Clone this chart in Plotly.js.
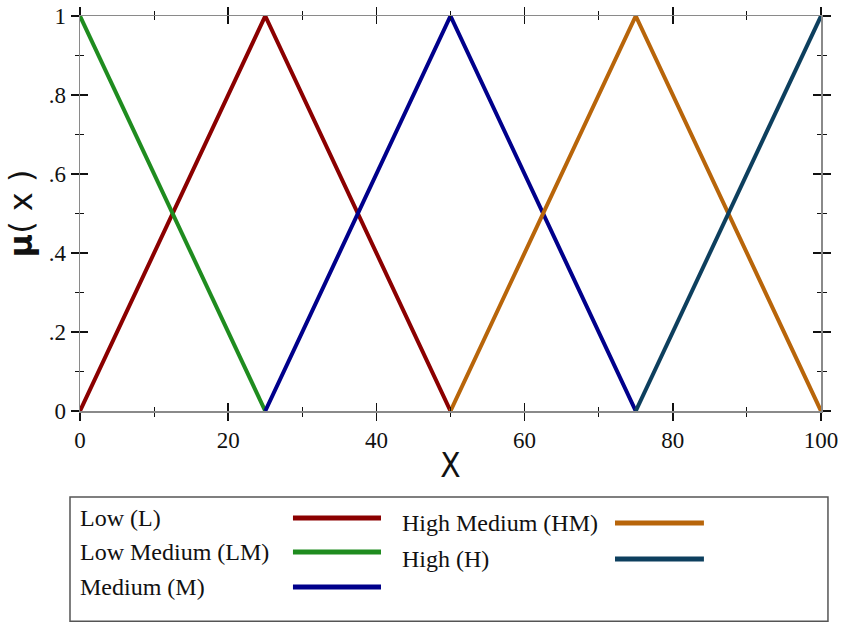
<!DOCTYPE html>
<html>
<head>
<meta charset="utf-8">
<script src="https://cdn.plot.ly/plotly-3.0.1.min.js"></script>
<style>html,body{margin:0;padding:0;background:#fff;}#chart{width:842px;height:624px;}</style>
</head>
<body>
<div id="chart"></div>
<script>
// ---- data ----
const seriesNames = ["Low (L)", "Low Medium (LM)", "Medium (M)", "High Medium (HM)", "High (H)"];
const seriesColors = ["#8b0000", "#1f8c1f", "#00008b", "#b8650a", "#0d3f5e"];
const lowX = [0, 25, 50];          const lowY = [0, 1, 0];
const lowMedX = [0, 25];           const lowMedY = [1, 0];
const medX = [25, 50, 75];         const medY = [0, 1, 0];
const highMedX = [50, 75, 100];    const highMedY = [0, 1, 0];
const highX = [75, 100];           const highY = [0, 1];
const xTickVals = [0, 20, 40, 60, 80, 100];
const xTickText = ["0", "20", "40", "60", "80", "100"];
const yTickVals = [0, 0.2, 0.4, 0.6, 0.8, 1];
const yTickText = ["0", ".2", ".4", ".6", ".8", "1"];

const xsAll = [lowX, lowMedX, medX, highMedX, highX];
const ysAll = [lowY, lowMedY, medY, highMedY, highY];

const traces = xsAll.map((xs, i) => ({
  x: xs, y: ysAll[i], type: "scatter", mode: "lines", name: seriesNames[i],
  line: {color: seriesColors[i], width: 4}, cliponaxis: false, showlegend: false, hoverinfo: "none"
}));
// dummy trace to activate inner-tick axes
traces.push({x: [0], y: [0], xaxis: "x2", yaxis: "y2", mode: "markers", marker: {opacity: 0}, showlegend: false, hoverinfo: "none"});

const serif = "Liberation Serif, Times New Roman, serif";
const axCommon = {
  showgrid: false, zeroline: false, showline: true, linecolor: "#8a8a8a", linewidth: 1.5,
  ticks: "outside", ticklen: 8, tickwidth: 1.5, tickcolor: "#111", mirror: "allticks",
  tickfont: {family: serif, size: 23, color: "#111"},
  minor: {ticks: "outside", ticklen: 4, tickwidth: 1, tickcolor: "#111"}
};

// legend (custom: text then line sample)
const col1Text = -0.0027, col1L0 = 0.2874, col1L1 = 0.4062;
const col2Text = 0.4318, col2L0 = 0.722, col2L1 = 0.842;
const legendPos = [
  {tx: col1Text, l0: col1L0, l1: col1L1, y: -0.2709},
  {tx: col1Text, l0: col1L0, l1: col1L1, y: -0.357},
  {tx: col1Text, l0: col1L0, l1: col1L1, y: -0.4456},
  {tx: col2Text, l0: col2L0, l1: col2L1, y: -0.2835},
  {tx: col2Text, l0: col2L0, l1: col2L1, y: -0.3747}
];
const shapes = [{type: "rect", xref: "paper", yref: "paper", x0: -0.0135, x1: 1.0094, y0: -0.532, y1: -0.2177,
  line: {color: "#555", width: 1.5}, fillcolor: "rgba(0,0,0,0)"}];
const annotations = [];
legendPos.forEach((p, i) => {
  shapes.push({type: "line", xref: "paper", yref: "paper", x0: p.l0, x1: p.l1, y0: p.y, y1: p.y,
    line: {color: seriesColors[i], width: 5}});
  annotations.push({xref: "paper", yref: "paper", x: p.tx, y: p.y, xanchor: "left", yanchor: "middle",
    text: seriesNames[i], showarrow: false, font: {family: serif, size: 24, color: "#111"}});
});

const layout = {
  width: 842, height: 624,
  margin: {l: 80, r: 21, t: 16, b: 213},
  paper_bgcolor: "#fff", plot_bgcolor: "#fff",
  showlegend: false,
  xaxis: Object.assign({}, axCommon, {
    range: [0, 100], tickmode: "array", tickvals: xTickVals, ticktext: xTickText,
    minor: Object.assign({}, axCommon.minor, {dtick: 10, tick0: 0}),
    title: {text: "X", font: {family: "Liberation Sans Narrow, DejaVu Sans Condensed, sans-serif", size: 33, color: "#111"}, standoff: 2}
  }),
  yaxis: Object.assign({}, axCommon, {
    range: [0, 1], tickmode: "array", tickvals: yTickVals, ticktext: yTickText,
    minor: Object.assign({}, axCommon.minor, {dtick: 0.1, tick0: 0}),
    title: {text: "<b>μ</b>( x )", font: {family: "DejaVu Sans, sans-serif", size: 32, color: "#111"}, standoff: 6}
  }),
  xaxis2: {overlaying: "x", range: [0, 100], showgrid: false, zeroline: false, showline: false,
    ticks: "inside", ticklen: 8, tickwidth: 1.5, tickcolor: "#111", mirror: "allticks", showticklabels: false,
    tickmode: "array", tickvals: xTickVals,
    minor: {ticks: "inside", ticklen: 4, tickwidth: 1, tickcolor: "#111", dtick: 10, tick0: 0}},
  yaxis2: {overlaying: "y", range: [0, 1], showgrid: false, zeroline: false, showline: false,
    ticks: "inside", ticklen: 8, tickwidth: 1.5, tickcolor: "#111", mirror: "allticks", showticklabels: false,
    tickmode: "array", tickvals: yTickVals,
    minor: {ticks: "inside", ticklen: 4, tickwidth: 1, tickcolor: "#111", dtick: 0.1, tick0: 0}},
  shapes: shapes,
  annotations: annotations
};

Plotly.newPlot("chart", traces, layout, {staticPlot: true});
</script>
</body>
</html>
